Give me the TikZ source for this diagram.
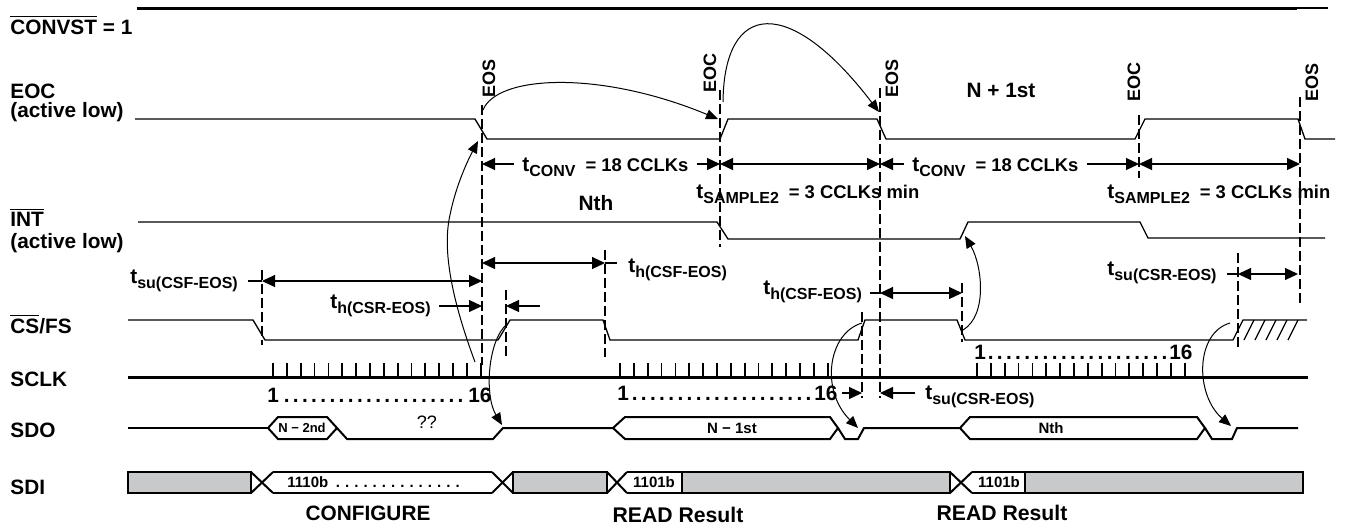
\documentclass[tikz,border=0pt]{standalone}
\usepackage{fontspec}
\setmainfont{Liberation Sans}
\usetikzlibrary{arrows.meta}
\definecolor{busgray}{RGB}{200,201,203}
\newcommand{\tsb}[1]{t\raisebox{-0.5ex}{\fontsize{8}{8}\selectfont #1}}
\newcommand{\overtxt}[1]{$\overline{\mbox{#1}}$}

\begin{document}
\begin{tikzpicture}[x=0.5pt, y=-0.5pt,
    every node/.style={inner sep=0pt, font=\bfseries\fontsize{10.4}{12}\selectfont},
    >={Triangle[length=6.5pt,width=6pt]},
    wave/.style={line width=0.65pt},
    heavy/.style={line width=1.5pt},
    bus/.style={line width=1pt},
    tick/.style={line width=0.9pt},
    guide/.style={line width=0.6pt, dash pattern=on 5pt off 2pt},
    dim/.style={line width=0.6pt},
    hook/.style={line width=0.5pt, -{Triangle[length=6pt,width=5pt]}},
    sig/.style={anchor=west},
    tim/.style={anchor=west},
    edge/.style={rotate=90, font=\bfseries\fontsize{9}{10}\selectfont},
    small/.style={font=\bfseries\fontsize{7.5}{9}\selectfont}]

  \useasboundingbox (0,0) rectangle (1351,527);

  % Signal names
  \node[sig] (lConv) at (10,25) {\overtxt{CONVST} = 1};
  \node[sig] (lEoc) at (10,91) {EOC};
  \node[sig] (lEocB) at (10,112) {(active low)};
  \node[sig] (lInt) at (10,217) {\overtxt{INT}};
  \node[sig] (lIntB) at (10,243) {(active low)};
  \node[sig] (lCs) at (10,324) {\overtxt{CS}/FS};
  \node[sig] (lSclk) at (10,379) {SCLK};
  \node[sig] (lSdo) at (10,430) {SDO};
  \node[sig] (lSdi) at (10,487) {SDI};

  % Waveforms
  \draw[heavy] (137,8) -- (1297,8);
  \draw[wave] (1297,8) -- (1328,8);
  \draw[wave] (135,119) -- (475,119) -- (487,139) -- (720,139) -- (728,119) -- (877,119) -- (886,139)
    -- (1135,139) -- (1145,119) -- (1298,119) -- (1305,139) -- (1335,139);
  \draw[wave] (138,222) -- (717,222) -- (728,239) -- (960,239) -- (968,222) -- (1140,222) -- (1148,238) -- (1325,238);
  \draw[wave] (128,320) -- (253,320) -- (265,340) -- (498,340) -- (510,320) -- (603,320) -- (610,340)
    -- (858,340) -- (865,320) -- (957,320) -- (965,340) -- (1233,340) -- (1243,320) -- (1307,320);
  \foreach \h in {1244,1255,1266,1277,1288}
    \draw[wave] (\h,340) -- (\h+10,320);

  % SCLK
  \draw[heavy] (128,377) -- (1308,377);
  \foreach \s in {273,620,977}
    \foreach \i in {0,...,15}
      \draw[tick] (\s+\i*13.85,377) -- (\s+\i*13.85,363);
  \node[anchor=west] (cntA) at (267,395) {\hbox to 112pt{1\dotfill16}};
  \node[anchor=west] (cntB) at (617,393) {\hbox to 110pt{1\dotfill16}};
  \node[anchor=west] (cntC) at (974,352) {\hbox to 109pt{1\dotfill16}};

  % SDO
  \draw[bus] (128,428) -- (268,428);
  \draw[bus] (268,428) -- (278,417) -- (327,417) -- (337,428) -- (327,439) -- (278,439) -- cycle;
  \draw[bus] (337,428) -- (347,439) -- (493,439) -- (503,428) -- (613,428);
  \draw[bus] (613,428) -- (625,417) -- (830,417) -- (838,428) -- (830,439) -- (625,439) -- cycle;
  \draw[bus] (838,428) -- (845,439) -- (858,439) -- (864,428) -- (960,428);
  \draw[bus] (960,428) -- (970,417) -- (1197,417) -- (1205,428) -- (1197,439) -- (970,439) -- cycle;
  \draw[bus] (1205,428) -- (1212,439) -- (1232,439) -- (1237,428) -- (1298,428);
  \node[font=\bfseries\fontsize{6.5}{8}\selectfont] (dN2) at (302,428) {N − 2nd};
  \node[font=\mdseries\fontsize{9}{10}\selectfont] (dQ) at (427,422) {??};
  \node[small] (dN1) at (732,428) {N − 1st};
  \node[small] (dN) at (1051,428) {Nth};

  % SDI
  \draw[bus, fill=busgray] (128,472) rectangle (251,493);
  \draw[bus] (251,472) -- (273,493) (251,493) -- (273,472);
  \draw[bus] (273,472) -- (492,472) (273,493) -- (492,493);
  \draw[bus] (492,472) -- (513,493) (492,493) -- (513,472);
  \draw[bus, fill=busgray] (513,472) rectangle (607,493);
  \draw[bus] (607,472) -- (627,493) (607,493) -- (627,472);
  \draw[bus] (627,472) -- (682,472) (627,493) -- (682,493);
  \draw[bus, fill=busgray] (682,472) rectangle (950,493);
  \draw[bus] (950,472) -- (972,493) (950,493) -- (972,472);
  \draw[bus] (972,472) -- (1025,472) (972,493) -- (1025,493);
  \draw[bus, fill=busgray] (1025,472) rectangle (1303,493);
  \node[small, anchor=west] (wCfg) at (287,482) {\hbox to 88pt{1110b\hspace{1pt}\leaders\hbox to 4.6pt{\hss.\hss}\hfill}};
  \node[small] (wRd1) at (654,482) {1101b};
  \node[small] (wRd2) at (999,482) {1101b};
  \node (cfg) at (368,513) {CONFIGURE};
  \node[font=\bfseries\fontsize{10.6}{12}\selectfont] (rd1) at (678,515) {READ Result};
  \node[font=\bfseries\fontsize{10.6}{12}\selectfont] (rd2) at (1002,513) {READ Result};

  % Guides
  \foreach \x/\ya/\yb in {482/105/365, 720/90/247, 880/88/398, 1139/115/178, 1300/97/305,
                          262/270/345, 506/290/357, 605/250/357, 862/312/398, 962/283/342, 1238/253/350}
    \draw[guide] (\x,\ya) -- (\x,\yb);
  \node[edge] (eosA) at (489,78) {EOS};
  \node[edge] (eocA) at (710,73) {EOC};
  \node[edge] (eosB) at (892,78) {EOS};
  \node[edge] (eocB) at (1134,82) {EOC};
  \node[edge] (eosC) at (1312,82) {EOS};
  \node (nNth) at (596,203) {Nth};
  \node (nNext) at (1001,90) {N + 1st};

  % tCONV and tSAMPLE2
  \coordinate (eos1) at (482,164);
  \coordinate (eoc1) at (720,164);
  \coordinate (eos2) at (880,164);
  \coordinate (eoc2) at (1139,164);
  \coordinate (eos3) at (1300,164);
  \node[anchor=base west, inner xsep=4pt] (convA) at (514,171) {\tsb{CONV}\hspace{5pt}\fontsize{9.2}{11}\selectfont= 18 CCLKs};
  \node[anchor=base west, inner xsep=4pt] (convB) at (904,171) {\tsb{CONV}\hspace{5pt}\fontsize{9.2}{11}\selectfont= 18 CCLKs};
  \draw[dim, <-] (eos1) -- (convA.west |- eos1);
  \draw[dim, ->] (convA.east |- eoc1) -- (eoc1);
  \draw[dim, <->] (eoc1) -- (eos2);
  \draw[dim, <-] (eos2) -- (convB.west |- eos2);
  \draw[dim, ->] (convB.east |- eoc2) -- (eoc2);
  \draw[dim, <->] (eoc2) -- (eos3);
  \node[anchor=base west] (smpA) at (696,198) {\tsb{SAMPLE2}\hspace{5pt}\fontsize{9.2}{11}\selectfont= 3 CCLKs min};
  \node[anchor=base west] (smpB) at (1107,198) {\tsb{SAMPLE2}\hspace{5pt}\fontsize{9.2}{11}\selectfont= 3 CCLKs min};

  % Setup and hold times
  \node[tim] (tsuCsf) at (130,281) {\tsb{su(CSF-EOS)}};
  \coordinate (tsuCsf1) at (262,281);
  \coordinate (tsuCsf2) at (482,281);
  \draw[dim] ([xshift=5pt]tsuCsf.east |- tsuCsf1) -- (tsuCsf1);
  \draw[dim, <->] (tsuCsf1) -- (tsuCsf2);

  \node[tim] (thCsr) at (330,306) {\tsb{h(CSR-EOS)}};
  \coordinate (thCsr1) at (482,306);
  \coordinate (thCsr2) at (506,306);
  \draw[dim, ->] ([xshift=4pt]thCsr.east |- thCsr1) -- (thCsr1);
  \draw[dim, ->] ([xshift=17pt]thCsr2) -- (thCsr2);

  \node[tim] (thCsfA) at (628,270) {\tsb{h(CSF-EOS)}};
  \coordinate (thCsfA1) at (482,263);
  \coordinate (thCsfA2) at (605,263);
  \draw[dim, <->] (thCsfA1) -- (thCsfA2);
  \draw[dim] (thCsfA2) -- ([xshift=6pt]thCsfA2);

  \node[tim] (thCsfB) at (763,292) {\tsb{h(CSF-EOS)}};
  \coordinate (thCsfB1) at (880,293);
  \coordinate (thCsfB2) at (962,293);
  \draw[dim] ([xshift=-5pt]thCsfB1) -- (thCsfB1);
  \draw[dim, <->] (thCsfB1) -- (thCsfB2);

  \node[tim] (tsuCsrA) at (925,397) {\tsb{su(CSR-EOS)}};
  \coordinate (tsuCsrA1) at (862,393);
  \coordinate (tsuCsrA2) at (880,393);
  \draw[dim, ->] ([xshift=-10pt]tsuCsrA1) -- (tsuCsrA1);
  \draw[dim, ->] ([xshift=-5pt]tsuCsrA.west |- tsuCsrA2) -- (tsuCsrA2);

  \node[tim] (tsuCsrB) at (1107,273) {\tsb{su(CSR-EOS)}};
  \coordinate (tsuCsrB1) at (1238,274);
  \coordinate (tsuCsrB2) at (1298,274);
  \draw[dim] ([xshift=5pt]tsuCsrB.east |- tsuCsrB1) -- (tsuCsrB1);
  \draw[dim, <->] (tsuCsrB1) -- (tsuCsrB2);

  % Cause arrows
  \coordinate (clk16) at (475,362);
  \coordinate (eocFall1) at (478,141);
  \draw[hook] (clk16) .. controls (452,300) and (442,250) .. (450,215) .. controls (456,185) and (468,160) .. (eocFall1);
  \coordinate (eosTop1) at (483,110);
  \coordinate (eocRise1) at (718,119);
  \draw[hook] (eosTop1) .. controls (497,75) and (600,70) .. (eocRise1);
  \coordinate (eocTop1) at (723,102);
  \coordinate (eosFall2) at (879,112);
  \draw[hook] (eocTop1) .. controls (724,0) and (790,-5) .. (eosFall2);
  \coordinate (csRise1) at (507,324);
  \coordinate (sdoRise1) at (502,425);
  \draw[hook] (csRise1) .. controls (488,340) and (484,395) .. (sdoRise1);
  \coordinate (csRise2) at (862,323);
  \coordinate (sdoRise2) at (858,428);
  \draw[hook] (csRise2) .. controls (828,333) and (820,390) .. (sdoRise2);
  \coordinate (csFall3) at (963,330);
  \coordinate (intRise) at (965,236);
  \draw[hook] (csFall3) .. controls (988,315) and (982,265) .. (intRise);
  \coordinate (csRise3) at (1230,323);
  \coordinate (sdoRise3) at (1231,426);
  \draw[hook] (csRise3) .. controls (1195,333) and (1195,395) .. (sdoRise3);
\end{tikzpicture}
\end{document}
